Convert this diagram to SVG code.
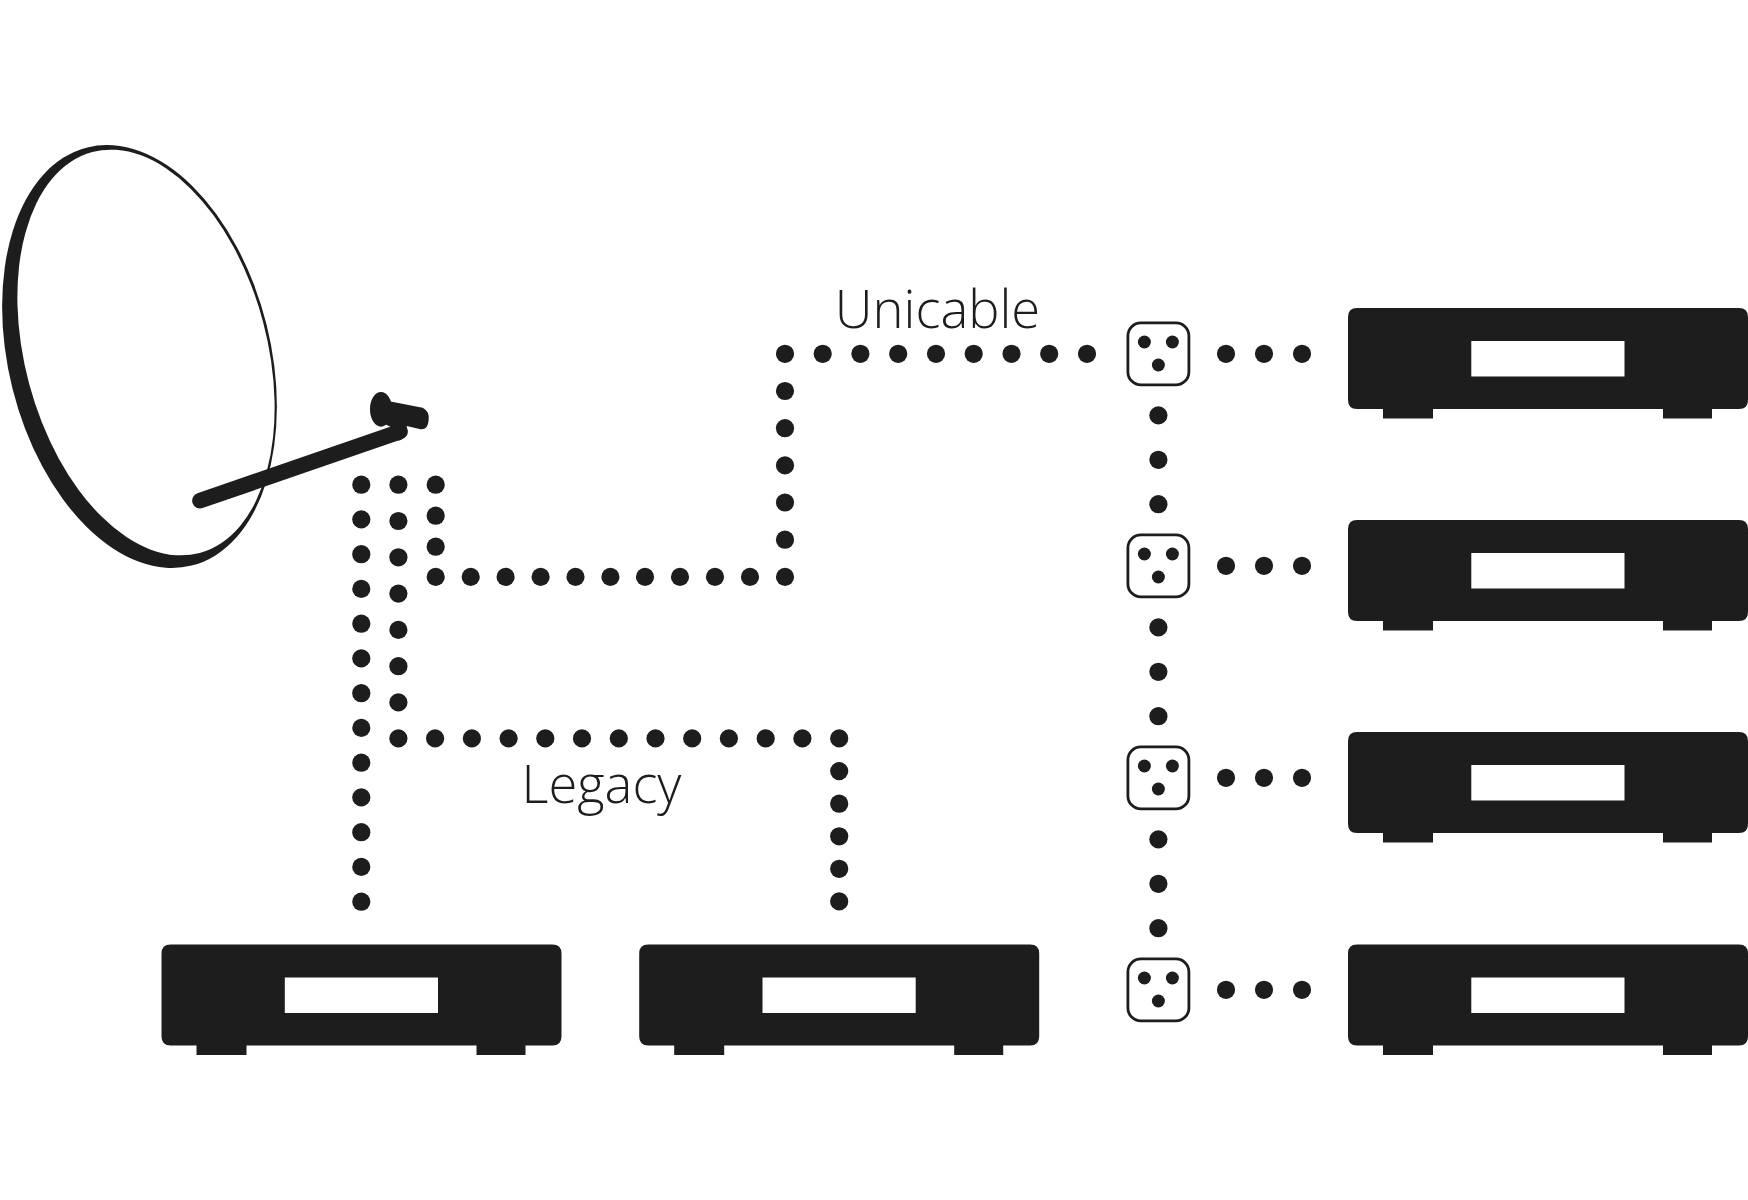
<svg xmlns="http://www.w3.org/2000/svg" width="1748" height="1200" viewBox="0 0 1748 1200">
<style>
.k{fill:#1d1d1d}
.t{font-family:"Open Sans","Liberation Sans",sans-serif;font-weight:300;fill:#1d1d1d}
.s{fill:#fff;stroke:#1d1d1d;stroke-width:2.8}
</style>
<defs>
<g id="box">
<path class="k" d="M9 0H391Q400 0 400 9V92Q400 101 391 101H364V110.5H315V101H85V110.5H35V101H9Q0 101 0 92V9Q0 0 9 0ZM123.3 33V68.5H276.5V33Z" fill-rule="evenodd"/>
</g>
<g id="sock">
<rect class="s" x="-30.5" y="-30.5" width="61" height="62" rx="13"/>
<circle class="k" cx="-14" cy="-11.4" r="6.5"/>
<circle class="k" cx="14" cy="-11.4" r="6.5"/>
<circle class="k" cx="0" cy="11.6" r="6.5"/>
</g>
<circle id="d" class="k" r="9.1"/>
</defs>
<rect width="1748" height="1200" fill="#fff"/>
<g id="dish">
<ellipse class="k" cx="139.5" cy="356.5" rx="131" ry="215.5" transform="rotate(-14 139.5 356.5)"/>
<ellipse cx="146" cy="352.5" rx="121" ry="207.5" fill="#fff" transform="rotate(-15 146 352.5)"/>
<g transform="translate(0 130) scale(.33333)">
<path d="M600 1112L1200 905" fill="none" stroke="#1d1d1d" stroke-width="47" stroke-linecap="round"/>
<ellipse class="k" cx="1143" cy="838" rx="33" ry="52"/>
<path class="k" d="M1160 812L1268 833Q1290 845 1286 870Q1284 900 1262 898L1220 888Q1225 925 1195 932L1180 895L1150 880Z"/>
</g>
</g>
<g id="connectors" transform="translate(0 .4)">
<use href="#d" x="785" y="353.4"/>
<use href="#d" x="822.7" y="353.4"/>
<use href="#d" x="860.4" y="353.4"/>
<use href="#d" x="898.2" y="353.4"/>
<use href="#d" x="936" y="353.4"/>
<use href="#d" x="973.7" y="353.4"/>
<use href="#d" x="1011.5" y="353.4"/>
<use href="#d" x="1049.2" y="353.4"/>
<use href="#d" x="1087" y="353.4"/>
<use href="#d" x="785" y="390.6"/>
<use href="#d" x="785" y="427.8"/>
<use href="#d" x="785" y="465"/>
<use href="#d" x="785" y="502.1"/>
<use href="#d" x="785" y="539.3"/>
<use href="#d" x="785" y="576.5"/>
<use href="#d" x="750" y="576.5"/>
<use href="#d" x="715" y="576.5"/>
<use href="#d" x="680" y="576.5"/>
<use href="#d" x="645" y="576.5"/>
<use href="#d" x="610.4" y="576.5"/>
<use href="#d" x="575.5" y="576.5"/>
<use href="#d" x="540.6" y="576.5"/>
<use href="#d" x="505.6" y="576.5"/>
<use href="#d" x="470.7" y="576.5"/>
<use href="#d" x="435.7" y="576.5"/>
<use href="#d" x="435.7" y="546.3"/>
<use href="#d" x="435.7" y="515.3"/>
<use href="#d" x="435.7" y="484.3"/>
<use href="#d" x="398.4" y="484.3"/>
<use href="#d" x="398.4" y="520.6"/>
<use href="#d" x="398.4" y="556.9"/>
<use href="#d" x="398.4" y="593.2"/>
<use href="#d" x="398.4" y="629.5"/>
<use href="#d" x="398.4" y="665.8"/>
<use href="#d" x="398.4" y="702"/>
<use href="#d" x="398.4" y="738"/>
<use href="#d" x="435.1" y="738"/>
<use href="#d" x="471.9" y="738"/>
<use href="#d" x="508.6" y="738"/>
<use href="#d" x="545.3" y="738"/>
<use href="#d" x="582" y="738"/>
<use href="#d" x="618.8" y="738"/>
<use href="#d" x="655.5" y="738"/>
<use href="#d" x="692.2" y="738"/>
<use href="#d" x="728.9" y="738"/>
<use href="#d" x="765.7" y="738"/>
<use href="#d" x="802.4" y="738"/>
<use href="#d" x="839.2" y="738"/>
<use href="#d" x="839.2" y="770.7"/>
<use href="#d" x="839.2" y="803.3"/>
<use href="#d" x="839.2" y="835.9"/>
<use href="#d" x="839.2" y="868.4"/>
<use href="#d" x="839.2" y="901"/>
<use href="#d" x="361.3" y="484.3"/>
<use href="#d" x="361.3" y="519"/>
<use href="#d" x="361.3" y="553.8"/>
<use href="#d" x="361.3" y="588.5"/>
<use href="#d" x="361.3" y="623.3"/>
<use href="#d" x="361.3" y="658"/>
<use href="#d" x="361.3" y="692.8"/>
<use href="#d" x="361.3" y="727.5"/>
<use href="#d" x="361.3" y="762.3"/>
<use href="#d" x="361.3" y="797"/>
<use href="#d" x="361.3" y="831.8"/>
<use href="#d" x="361.3" y="866.5"/>
<use href="#d" x="361.3" y="901.3"/>
<use href="#d" x="1158.4" y="415"/>
<use href="#d" x="1158.4" y="459.4"/>
<use href="#d" x="1158.4" y="503.8"/>
<use href="#d" x="1158.4" y="627"/>
<use href="#d" x="1158.4" y="671.4"/>
<use href="#d" x="1158.4" y="715.8"/>
<use href="#d" x="1158.4" y="839"/>
<use href="#d" x="1158.4" y="883.4"/>
<use href="#d" x="1158.4" y="927.8"/>
<use href="#d" x="1226" y="353.4"/>
<use href="#d" x="1264" y="353.4"/>
<use href="#d" x="1302" y="353.4"/>
<use href="#d" x="1226" y="565.4"/>
<use href="#d" x="1264" y="565.4"/>
<use href="#d" x="1302" y="565.4"/>
<use href="#d" x="1226" y="777.4"/>
<use href="#d" x="1264" y="777.4"/>
<use href="#d" x="1302" y="777.4"/>
<use href="#d" x="1226" y="989.4"/>
<use href="#d" x="1264" y="989.4"/>
<use href="#d" x="1302" y="989.4"/>
</g>
<g id="socket-1"><use href="#sock" x="1158.4" y="353.4"/></g>
<g id="socket-2"><use href="#sock" x="1158.4" y="565.4"/></g>
<g id="socket-3"><use href="#sock" x="1158.4" y="777.4"/></g>
<g id="socket-4"><use href="#sock" x="1158.4" y="989.4"/></g>
<g id="receiver-1"><use href="#box" x="1348" y="308"/></g>
<g id="receiver-2"><use href="#box" x="1348" y="520"/></g>
<g id="receiver-3"><use href="#box" x="1348" y="732"/></g>
<g id="receiver-4"><use href="#box" x="1348" y="944.5"/></g>
<g id="legacy-1"><use href="#box" x="161.5" y="944.5"/></g>
<g id="legacy-2"><use href="#box" x="639.2" y="944.5"/></g>
<text id="label-unicable" class="t" x="937.5" y="328" font-size="52.5" text-anchor="middle">Unicable</text>
<text id="label-legacy" class="t" x="601.5" y="803" font-size="52.5" text-anchor="middle">Legacy</text>
</svg>
